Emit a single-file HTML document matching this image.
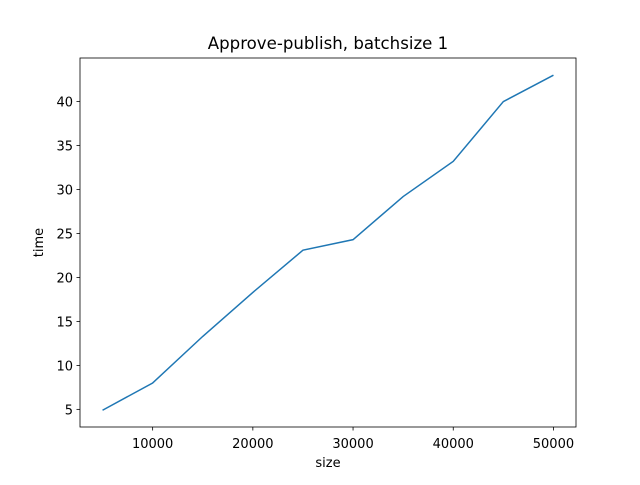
<!DOCTYPE html>
<html><head><meta charset="utf-8"><style>body{margin:0;background:#fff}svg{font-family:"DejaVu Sans","Liberation Sans",sans-serif}</style></head>
<body>
<svg id="c" width="640" height="480"></svg>
<script>
const sizes=[5000,10000,15000,20000,25000,30000,35000,40000,45000,50000];
const times=[4.9,8.0,13.3,18.3,23.1,24.3,29.2,33.2,40.0,43.0];
const xTicks=[10000,20000,30000,40000,50000];
const yTicks=[5,10,15,20,25,30,35,40];
const L=80,R=576,T=58,B=427;
const xmin=2750,xmax=52250,ymin=2.995,ymax=44.955;
const sx=v=>L+(v-xmin)/(xmax-xmin)*(R-L);
const sy=v=>B-(v-ymin)/(ymax-ymin)*(B-T);
const s=document.getElementById('c');const NS='http://www.w3.org/2000/svg';
function mk(t,a,p){const e=document.createElementNS(NS,t);for(const k in a)e.setAttribute(k,a[k]);(p||s).appendChild(e);return e;}
let pts=sizes.map((x,i)=>sx(x)+','+sy(times[i])).join(' ');
let line=mk('polyline',{points:pts,fill:'none',stroke:'#1f77b4','stroke-width':1.5});


let fr=mk('rect',{x:L,y:T,width:R-L,height:B-T,fill:'none',stroke:'#000','stroke-width':0.8});


xTicks.forEach(v=>{const x=sx(v);mk('line',{x1:x,x2:x,y1:B,y2:B+3.5,stroke:'#000','stroke-width':0.8});
const t=mk('text',{x:x,y:B+21,'text-anchor':'middle','font-size':13});t.textContent=v;

});
yTicks.forEach(v=>{const y=sy(v);mk('line',{x1:L,x2:L-3.5,y1:y,y2:y,stroke:'#000','stroke-width':0.8});
const t=mk('text',{x:L-7,y:y+5,'text-anchor':'end','font-size':13});t.textContent=v;

});
let xt=mk('text',{x:(L+R)/2,y:467,'text-anchor':'middle','font-size':13});xt.textContent='size';


let yt=mk('text',{x:43,y:(T+B)/2,'text-anchor':'middle','font-size':13,transform:'rotate(-90 43 '+((T+B)/2)+')'});yt.textContent='time';


let ti=mk('text',{x:(L+R)/2,y:49,'text-anchor':'middle','font-size':16.6});ti.textContent='Approve-publish, batchsize 1';


</script>
</body></html>
